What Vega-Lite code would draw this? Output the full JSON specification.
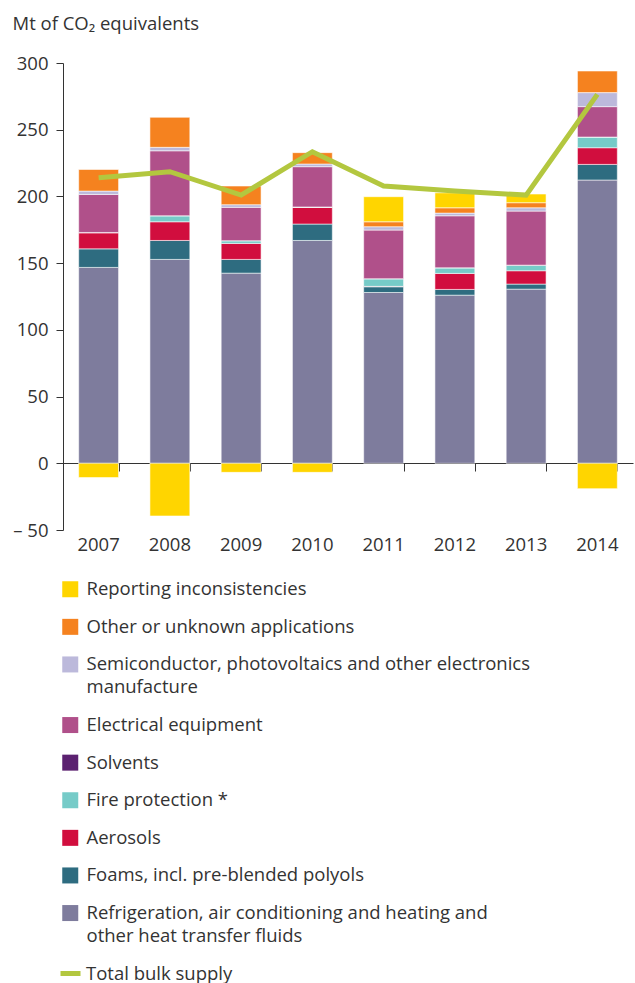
{
  "$schema": "https://vega.github.io/schema/vega-lite/v6.json",
  "autosize": "none",
  "width": 570,
  "height": 467,
  "padding": {"left": 63, "top": 63, "right": 2, "bottom": 453},
  "background": "white",
  "config": {
    "font": "Open Sans",
    "view": {"stroke": null},
    "style": {"guide-label": {"lineHeight": 23}}
  },
  "datasets": {
    "bars": [
      {"year": "2007", "category": "Refrigeration, air conditioning and heating and other heat transfer fluids", "value": 146.8},
      {"year": "2007", "category": "Foams, incl. pre-blended polyols", "value": 13.9},
      {"year": "2007", "category": "Aerosols", "value": 12.0},
      {"year": "2007", "category": "Fire protection *", "value": 0.3},
      {"year": "2007", "category": "Solvents", "value": 0},
      {"year": "2007", "category": "Electrical equipment", "value": 28.5},
      {"year": "2007", "category": "Semiconductor, photovoltaics and other electronics manufacture", "value": 2.5},
      {"year": "2007", "category": "Other or unknown applications", "value": 16.2},
      {"year": "2007", "category": "Reporting inconsistencies", "value": -10.7},
      {"year": "2008", "category": "Refrigeration, air conditioning and heating and other heat transfer fluids", "value": 152.8},
      {"year": "2008", "category": "Foams, incl. pre-blended polyols", "value": 14.2},
      {"year": "2008", "category": "Aerosols", "value": 14.0},
      {"year": "2008", "category": "Fire protection *", "value": 4.5},
      {"year": "2008", "category": "Solvents", "value": 0},
      {"year": "2008", "category": "Electrical equipment", "value": 48.7},
      {"year": "2008", "category": "Semiconductor, photovoltaics and other electronics manufacture", "value": 2.6},
      {"year": "2008", "category": "Other or unknown applications", "value": 22.5},
      {"year": "2008", "category": "Reporting inconsistencies", "value": -39.5},
      {"year": "2009", "category": "Refrigeration, air conditioning and heating and other heat transfer fluids", "value": 142.5},
      {"year": "2009", "category": "Foams, incl. pre-blended polyols", "value": 10.3},
      {"year": "2009", "category": "Aerosols", "value": 12.0},
      {"year": "2009", "category": "Fire protection *", "value": 2.0},
      {"year": "2009", "category": "Solvents", "value": 0},
      {"year": "2009", "category": "Electrical equipment", "value": 25.0},
      {"year": "2009", "category": "Semiconductor, photovoltaics and other electronics manufacture", "value": 2.0},
      {"year": "2009", "category": "Other or unknown applications", "value": 14.0},
      {"year": "2009", "category": "Reporting inconsistencies", "value": -6.8},
      {"year": "2010", "category": "Refrigeration, air conditioning and heating and other heat transfer fluids", "value": 167.0},
      {"year": "2010", "category": "Foams, incl. pre-blended polyols", "value": 12.3},
      {"year": "2010", "category": "Aerosols", "value": 12.5},
      {"year": "2010", "category": "Fire protection *", "value": 0.3},
      {"year": "2010", "category": "Solvents", "value": 0},
      {"year": "2010", "category": "Electrical equipment", "value": 30.2},
      {"year": "2010", "category": "Semiconductor, photovoltaics and other electronics manufacture", "value": 2.0},
      {"year": "2010", "category": "Other or unknown applications", "value": 8.5},
      {"year": "2010", "category": "Reporting inconsistencies", "value": -6.8},
      {"year": "2011", "category": "Refrigeration, air conditioning and heating and other heat transfer fluids", "value": 128.0},
      {"year": "2011", "category": "Foams, incl. pre-blended polyols", "value": 4.3},
      {"year": "2011", "category": "Aerosols", "value": 0.3},
      {"year": "2011", "category": "Fire protection *", "value": 5.7},
      {"year": "2011", "category": "Solvents", "value": 0},
      {"year": "2011", "category": "Electrical equipment", "value": 36.5},
      {"year": "2011", "category": "Semiconductor, photovoltaics and other electronics manufacture", "value": 2.5},
      {"year": "2011", "category": "Other or unknown applications", "value": 3.7},
      {"year": "2011", "category": "Reporting inconsistencies", "value": 18.8},
      {"year": "2012", "category": "Refrigeration, air conditioning and heating and other heat transfer fluids", "value": 126.0},
      {"year": "2012", "category": "Foams, incl. pre-blended polyols", "value": 4.3},
      {"year": "2012", "category": "Aerosols", "value": 12.0},
      {"year": "2012", "category": "Fire protection *", "value": 4.2},
      {"year": "2012", "category": "Solvents", "value": 0},
      {"year": "2012", "category": "Electrical equipment", "value": 39.0},
      {"year": "2012", "category": "Semiconductor, photovoltaics and other electronics manufacture", "value": 2.0},
      {"year": "2012", "category": "Other or unknown applications", "value": 4.0},
      {"year": "2012", "category": "Reporting inconsistencies", "value": 11.2},
      {"year": "2013", "category": "Refrigeration, air conditioning and heating and other heat transfer fluids", "value": 130.5},
      {"year": "2013", "category": "Foams, incl. pre-blended polyols", "value": 3.8},
      {"year": "2013", "category": "Aerosols", "value": 10.0},
      {"year": "2013", "category": "Fire protection *", "value": 4.2},
      {"year": "2013", "category": "Solvents", "value": 0},
      {"year": "2013", "category": "Electrical equipment", "value": 40.5},
      {"year": "2013", "category": "Semiconductor, photovoltaics and other electronics manufacture", "value": 2.5},
      {"year": "2013", "category": "Other or unknown applications", "value": 3.8},
      {"year": "2013", "category": "Reporting inconsistencies", "value": 6.5},
      {"year": "2014", "category": "Refrigeration, air conditioning and heating and other heat transfer fluids", "value": 212.3},
      {"year": "2014", "category": "Foams, incl. pre-blended polyols", "value": 11.7},
      {"year": "2014", "category": "Aerosols", "value": 12.5},
      {"year": "2014", "category": "Fire protection *", "value": 8.0},
      {"year": "2014", "category": "Solvents", "value": 0},
      {"year": "2014", "category": "Electrical equipment", "value": 22.8},
      {"year": "2014", "category": "Semiconductor, photovoltaics and other electronics manufacture", "value": 10.5},
      {"year": "2014", "category": "Other or unknown applications", "value": 16.2},
      {"year": "2014", "category": "Reporting inconsistencies", "value": -19.0}
    ],
    "total": [
      {"year": "2007", "series": "Total bulk supply", "value": 214.0},
      {"year": "2008", "series": "Total bulk supply", "value": 218.5},
      {"year": "2009", "series": "Total bulk supply", "value": 201.0},
      {"year": "2010", "series": "Total bulk supply", "value": 233.5},
      {"year": "2011", "series": "Total bulk supply", "value": 207.8},
      {"year": "2012", "series": "Total bulk supply", "value": 204.0},
      {"year": "2013", "series": "Total bulk supply", "value": 201.0},
      {"year": "2014", "series": "Total bulk supply", "value": 276.5}
    ]
  },
  "resolve": {"axis": {"x": "independent"}},
  "layer": [
    {
      "data": {"name": "bars"},
      "transform": [
        {"calculate": "indexof(['Refrigeration, air conditioning and heating and other heat transfer fluids', 'Foams, incl. pre-blended polyols', 'Aerosols', 'Fire protection *', 'Solvents', 'Electrical equipment', 'Semiconductor, photovoltaics and other electronics manufacture', 'Other or unknown applications', 'Reporting inconsistencies'], datum.category)", "as": "stackRank"}
      ],
      "mark": {"type": "bar", "stroke": "white", "strokeWidth": 0.8, "strokeOpacity": 0.7},
      "encoding": {
        "x": {
          "field": "year", "type": "ordinal",
          "scale": {"paddingInner": 0.44, "paddingOuter": 0.22},
          "axis": {"orient": "bottom", "title": null, "domain": false, "ticks": false, "labelAngle": 0,
                   "labelFontSize": 18.5, "labelColor": "#333333", "labelPadding": 5}
        },
        "y": {
          "field": "value", "type": "quantitative", "stack": "zero",
          "scale": {"domain": [-50, 300], "nice": false},
          "axis": {
            "title": "Mt of CO₂ equivalents", "titleAngle": 0, "titleAlign": "left", "titleBaseline": "alphabetic",
            "titleX": -51, "titleY": -34, "titleFontSize": 18.5, "titleFontWeight": "normal", "titleColor": "#333333",
            "values": [-50, 0, 50, 100, 150, 200, 250, 300],
            "labelExpr": "datum.value < 0 ? '– ' + abs(datum.value) : datum.label",
            "grid": false, "domainColor": "#333333", "tickColor": "#333333", "tickSize": 7,
            "labelFontSize": 18.5, "labelColor": "#333333", "labelPadding": 8
          }
        },
        "order": {"field": "stackRank", "type": "quantitative", "sort": "ascending"},
        "fill": {
          "field": "category", "type": "nominal",
          "scale": {
            "domain": [
              "Refrigeration, air conditioning and heating and other heat transfer fluids",
              "Foams, incl. pre-blended polyols",
              "Aerosols",
              "Fire protection *",
              "Solvents",
              "Electrical equipment",
              "Semiconductor, photovoltaics and other electronics manufacture",
              "Other or unknown applications",
              "Reporting inconsistencies"
            ],
            "range": ["#7E7C9D", "#2E6C80", "#D10E3E", "#76CBC8", "#5B2170", "#B0508A", "#BCB9DB", "#F5821F", "#FFD500"]
          },
          "legend": {
            "title": null, "orient": "none", "legendX": -2, "legendY": 517, "direction": "vertical",
            "values": [
              "Reporting inconsistencies",
              "Other or unknown applications",
              "Semiconductor, photovoltaics and other electronics manufacture",
              "Electrical equipment",
              "Solvents",
              "Fire protection *",
              "Aerosols",
              "Foams, incl. pre-blended polyols",
              "Refrigeration, air conditioning and heating and other heat transfer fluids"
            ],
            "symbolType": "square", "symbolSize": 256, "symbolStrokeWidth": 0, "symbolOpacity": 1,
            "labelFontSize": 18.5, "labelColor": "#333333", "labelOffset": 7, "labelLimit": 500, "rowPadding": 18.6,
            "labelExpr": "datum.label == 'Semiconductor, photovoltaics and other electronics manufacture' ? ['Semiconductor, photovoltaics and other electronics', 'manufacture'] : datum.label == 'Refrigeration, air conditioning and heating and other heat transfer fluids' ? ['Refrigeration, air conditioning and heating and', 'other heat transfer fluids'] : datum.label"
          }
        }
      }
    },
    {
      "data": {"name": "total"},
      "mark": {"type": "line", "strokeWidth": 5, "strokeJoin": "miter", "strokeCap": "butt"},
      "encoding": {
        "x": {
          "field": "year", "type": "ordinal",
          "axis": {"orient": "bottom", "offset": -67, "title": null, "labels": false, "domain": true, "ticks": true,
                   "tickBand": "extent", "tickSize": 8, "domainColor": "#333333", "tickColor": "#333333"}
        },
        "y": {"field": "value", "type": "quantitative"},
        "stroke": {
          "field": "series", "type": "nominal",
          "scale": {"range": ["#B3C73F"]},
          "legend": {
            "title": null, "orient": "none", "legendX": -5, "legendY": 898,
            "symbolType": "stroke", "symbolSize": 400, "symbolStrokeWidth": 5,
            "labelFontSize": 18.5, "labelColor": "#333333", "labelOffset": 3
          }
        }
      }
    }
  ]
}
